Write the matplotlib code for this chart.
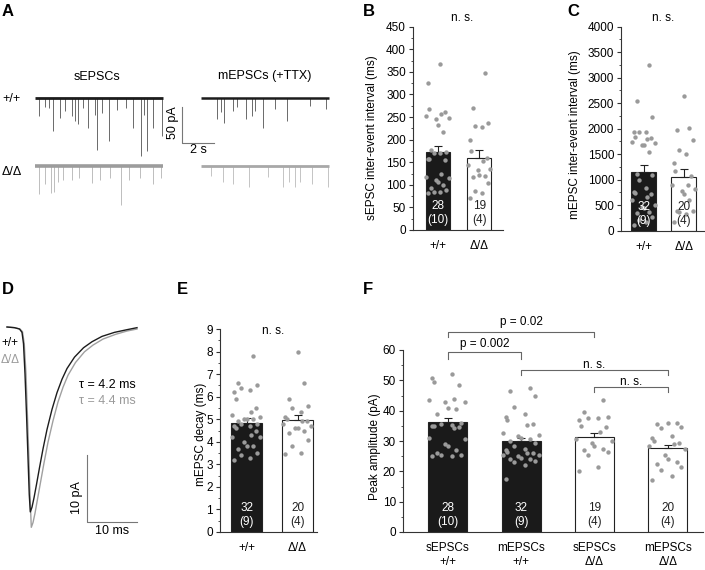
import matplotlib.pyplot as plt
import numpy as np
from matplotlib.ticker import MultipleLocator

plt.rcParams['font.family'] = ['Liberation Sans', 'DejaVu Sans']
plt.rcParams['font.size'] = 8.5

W, H = 705, 570

# ---------------- data ----------------
genotypes = ['+/+', 'Δ/Δ']

# A: example traces, event times (s) and amplitudes (pA)
s_wt_t = [0.27, 0.63, 0.9, 1.15, 1.56, 1.88, 2.3, 2.5, 2.7, 3.0, 3.33, 3.75, 3.9, 4.17, 4.6, 5.1, 5.7, 6.1, 6.6, 6.8, 7.0, 7.4, 7.95]
s_wt_a = [25, 12, 14, 46, 28, 18, 25, 32, 36, 14, 42, 23, 72, 21, 60, 16, 14, 42, 81, 23, 74, 42, 53]
s_ko_t = [0.27, 0.63, 0.98, 1.19, 1.46, 1.77, 2.3, 2.77, 3.54, 4.06, 4.7, 5.4, 5.9, 6.56, 7.4, 7.9]
s_ko_a = [39, 25, 37, 35, 21, 19, 19, 16, 23, 19, 16, 53, 19, 16, 25, 16]
m_wt_t = [0.98, 1.23, 1.46, 1.98, 2.23, 2.79, 3.17, 3.38, 3.9, 4.6, 5.35, 6.8, 7.8]
m_wt_a = [29, 20, 35, 18, 13, 29, 25, 18, 42, 15, 32, 11, 15]
m_ko_t = [0.6, 1.4, 2.0, 3.0, 4.2, 5.1, 5.5, 5.9, 6.2, 6.96, 7.96]
m_ko_a = [14, 21, 24, 29, 15, 29, 21, 29, 21, 24, 29]

# B: sEPSC inter-event interval (ms)
b_wt = [367, 325, 268, 262, 257, 253, 248, 246, 232, 217, 176, 173, 171, 170, 158, 158, 155,
        125, 118, 114, 111, 107, 100, 92, 88, 85, 84, 82]
b_ko = [347, 270, 237, 231, 229, 200, 175, 160, 153, 143, 136, 132, 122, 120, 117, 103, 87, 82, 70]
b_mean = [173, 160]
b_sem = [14, 17]

# C: mEPSC inter-event interval (ms)
c_wt = [3250, 2540, 2220, 1930, 1930, 1930, 1840, 1810, 1790, 1745, 1710, 1680, 1680, 1550, 1120,
        1090, 990, 830, 765, 730, 710, 665, 600, 500, 470, 440, 370, 340, 270, 210, 175, 110]
c_ko = [2650, 2010, 1980, 1780, 1590, 1510, 1330, 1170, 1080, 900, 900, 810, 780, 720, 600,
        390, 380, 370, 330, 170]
c_mean = [1160, 1050]
c_sem = [130, 150]

# D: averaged mEPSC, time (ms) and current (pA)
d_wt_t = [0, 1.5, 2.5, 3.0, 3.3, 3.6, 3.9, 4.2, 4.45, 4.66, 5.0, 5.4, 5.9, 6.5, 7.2, 8.0, 9.0,
          10.0, 11.0, 12.0, 13.5, 15.3, 17.0, 19.0, 21.5, 24.0, 26.0]
d_wt_i = [0, -0.1, -0.3, -0.8, -2.5, -7, -13, -19.5, -25, -27.6, -26.9, -25.5, -23.5, -21, -18.2,
          -15.3, -12.3, -9.8, -7.8, -6.2, -4.5, -3.1, -2.2, -1.4, -0.8, -0.4, -0.1]
d_ko_t = [0, 1.5, 2.6, 3.1, 3.45, 3.8, 4.1, 4.4, 4.65, 4.86, 5.2, 5.6, 6.1, 6.7, 7.4, 8.2, 9.2,
          10.2, 11.2, 12.2, 13.7, 15.5, 17.2, 19.2, 21.7, 24.0, 26.0]
d_ko_i = [0, -0.1, -0.3, -0.7, -2.5, -7, -13.5, -20, -26, -29.9, -29.2, -27.8, -25.7, -23.2, -20.3,
          -17.2, -14, -11.2, -9, -7.2, -5.3, -3.7, -2.7, -1.8, -1.1, -0.6, -0.3]
tau_text = ['τ = 4.2 ms', 'τ = 4.4 ms']

# E: mEPSC decay (ms)
e_wt = [7.8, 6.6, 6.5, 6.4, 6.3, 6.2, 5.9, 5.5, 5.3, 5.2, 5.1, 5.0, 5.0, 5.0, 4.9, 4.8, 4.8, 4.7,
        4.7, 4.6, 4.5, 4.3, 4.2, 4.2, 4.0, 3.8, 3.8, 3.7, 3.5, 3.4, 3.3, 3.2]
e_ko = [8.0, 6.6, 5.9, 5.6, 5.5, 5.3, 5.1, 5.0, 4.9, 4.9, 4.8, 4.7, 4.6, 4.6, 4.5, 4.4, 4.1, 3.8, 3.5, 3.45]
e_mean = [4.85, 4.95]
e_sem = [0.2, 0.22]

# F: peak amplitude (pA)
f_labels = ['sEPSCs\n+/+', 'mEPSCs\n+/+', 'sEPSCs\nΔ/Δ', 'mEPSCs\nΔ/Δ']
f_s_wt = [52, 50.8, 49.5, 48.3, 44, 43.5, 43, 43, 41, 40.5, 39, 36, 35.5, 35.3, 35, 35, 34.5, 34.3,
          31, 30.5, 29, 28.5, 27, 26, 25.5, 25.3, 25, 25]
f_m_wt = [47.5, 46.5, 45, 41.2, 38.8, 38, 37, 35.5, 35.3, 32.5, 32, 31.5, 31, 30.5, 30, 29.5, 28.5,
          27.5, 27, 26.5, 26, 26, 25.5, 25.5, 25, 24.5, 24, 24, 23.5, 23, 22, 17.5]
f_s_ko = [43.5, 39.5, 38, 37.5, 37.5, 37, 35, 34.5, 33, 30.5, 30, 29.5, 28.5, 27.5, 27, 26.5, 25.5, 21.5, 20]
f_m_ko = [36, 35.8, 35.5, 34.5, 34.2, 31.5, 31, 30, 29.5, 29, 28.5, 27.5, 25.5, 24, 23, 22.5, 21.5,
          20.5, 18.5, 17]
f_mean = [36.2, 30.1, 31.2, 27.7]
f_sem = [1.3, 1.0, 1.4, 1.1]
f_comparisons = [(0, 2, 'p = 0.02'), (0, 1, 'p = 0.002'), (1, 3, 'n. s.'), (2, 3, 'n. s.')]

n_cells_s = ['28', '19']
n_mice_s = ['(10)', '(4)']
n_cells_m = ['32', '20']
n_mice_m = ['(9)', '(4)']

# ---------------- layout helpers ----------------
fig = plt.figure(figsize=(7.05, 5.7), dpi=100)


def box(l, t, r, b):
    return [l / W, 1 - b / H, (r - l) / W, (b - t) / H]


def fpos(x, y):
    return x / W, 1 - y / H


def ftext(x, y, s, **kw):
    fig.text(*fpos(x, y), s, ha=kw.pop('ha', 'center'), va=kw.pop('va', 'center'), **kw)


AX = '#333333'
DOT = '#9a9a9a'


def spread(vals, half):
    order = np.argsort(vals)
    pattern = np.array([-0.8, 0.2, -0.35, 0.7, -0.55, 0.45, 0.0, -0.15, 0.9, -0.95, 0.3, 0.6, -0.7])
    off = np.empty(len(vals))
    off[order] = pattern[np.arange(len(vals)) % len(pattern)] * half
    return off


def bar_panel(ax, groups, means, sems, fills, width, ncells, nmice, xlabels, ymax, major, minor):
    x = np.arange(len(groups))
    for i, vals in enumerate(groups):
        ax.bar(x[i], means[i], width, color=fills[i], edgecolor='#222222', linewidth=0.8, zorder=2)
        ax.errorbar(x[i], means[i], yerr=[[0], [sems[i]]], color='#222222', lw=0.8,
                    capsize=3, capthick=0.8, zorder=3)
        ax.scatter(x[i] + spread(vals, width / 2), vals, s=10, color=DOT, linewidths=0, zorder=4)
        tc = 'white' if fills[i] != 'white' else '#222222'
        ax.annotate(ncells[i], (x[i], 0), xycoords=('data', 'axes fraction'), xytext=(0, 17.3),
                    textcoords='offset points', ha='center', va='center', color=tc, zorder=5)
        ax.annotate(nmice[i], (x[i], 0), xycoords=('data', 'axes fraction'), xytext=(0, 7.2),
                    textcoords='offset points', ha='center', va='center', color=tc, zorder=5)
    ax.set_ylim(0, ymax)
    ax.yaxis.set_major_locator(MultipleLocator(major))
    ax.yaxis.set_minor_locator(MultipleLocator(minor))
    ax.set_xticks(x)
    ax.set_xticklabels(xlabels)
    for s in ['top', 'right']:
        ax.spines[s].set_visible(False)
    for s in ['left', 'bottom']:
        ax.spines[s].set_color(AX)
        ax.spines[s].set_linewidth(0.8)
    ax.tick_params(axis='y', which='major', length=3, width=0.8, pad=2, color=AX)
    ax.tick_params(axis='y', which='minor', length=1.8, width=0.6, color=AX)
    ax.tick_params(axis='x', length=0, pad=7.5)


# ---------------- A: traces ----------------
axA = fig.add_axes(box(30, 60, 335, 215))
axA.set_xlim(-0.3125, 18.75)
axA.set_ylim(-162.5, 52.8)
axA.axis('off')
traces = [(0, 0, s_wt_t, s_wt_a, '#1c1c1c', '#6a6a6a', 2.0),
          (10.375, 0, m_wt_t, m_wt_a, '#1c1c1c', '#6a6a6a', 1.8),
          (0, -95, s_ko_t, s_ko_a, '#9c9c9c', '#bdbdbd', 2.6),
          (10.375, -95, m_ko_t, m_ko_a, '#a8a8a8', '#c4c4c4', 2.0)]
for t0, y0, tt, aa, bc, ec, lw in traces:
    axA.vlines(t0 + np.array(tt), y0, y0 - np.array(aa), color=ec, lw=0.7)
    axA.plot([t0, t0 + 8], [y0, y0], color=bc, lw=lw, solid_capstyle='butt')
axA.plot([9.19, 9.19, 11.19], [-12.5, -62.5, -62.5], color='#777777', lw=0.8)
ftext(173, 123, '50 pA', rotation=90, fontsize=9)
ftext(198, 150, '2 s', fontsize=9)
ftext(97, 77, 'sEPSCs', fontsize=9)
ftext(265, 76, 'mEPSCs (+TTX)', fontsize=9)
ftext(11, 99, genotypes[0], fontsize=9)
ftext(12, 172, genotypes[1], fontsize=9)

# ---------------- B ----------------
axB = fig.add_axes(box(413, 26.7, 503, 230))
bar_panel(axB, [b_wt, b_ko], b_mean, b_sem, ['#1a1a1a', 'white'], 0.58,
          n_cells_s, n_mice_s, genotypes, 450, 50, 25)
axB.set_xlim(-0.6, 1.57)
axB.set_ylabel('sEPSC inter-event interval (ms)')
axB.yaxis.set_label_coords(*fpos(378, 138), transform=fig.transFigure)
ftext(462, 18, 'n. s.')

# ---------------- C ----------------
axC = fig.add_axes(box(621, 26.7, 704, 230.7))
bar_panel(axC, [c_wt, c_ko], c_mean, c_sem, ['#1a1a1a', 'white'], 0.62,
          n_cells_m, n_mice_m, genotypes, 4000, 500, 250)
axC.set_xlim(-0.56, 1.5)
axC.set_ylabel('mEPSC inter-event interval (ms)')
axC.yaxis.set_label_coords(*fpos(581, 135), transform=fig.transFigure)
ftext(663, 18, 'n. s.')

# ---------------- D: average mEPSC ----------------
axD = fig.add_axes(box(0, 300, 150, 545))
axD.set_xlim(-1.4, 28.6)
axD.set_ylim(-32.54, 4.03)
axD.axis('off')
axD.plot(d_ko_t, d_ko_i, color='#a0a0a0', lw=1.0)
axD.plot(d_wt_t, d_wt_i, color='#1c1c1c', lw=1.0)
axD.plot([16, 16, 26], [-19.1, -29.1, -29.1], color='#777777', lw=0.8)
ftext(77, 498, '10 pA', rotation=90, fontsize=9)
ftext(112, 531, '10 ms', fontsize=9)
ftext(1, 343, genotypes[0], ha='left', fontsize=8.5)
ftext(1, 360, genotypes[1], ha='left', fontsize=8.5, color='#9a9a9a')
ftext(136, 385, tau_text[0], ha='right', fontsize=9)
ftext(136, 401, tau_text[1], ha='right', fontsize=9, color='#9a9a9a')

# ---------------- E ----------------
axE = fig.add_axes(box(220, 329, 317, 532))
bar_panel(axE, [e_wt, e_ko], e_mean, e_sem, ['#1a1a1a', 'white'], 0.6,
          n_cells_m, n_mice_m, genotypes, 9, 1, 0.5)
axE.set_xlim(-0.52, 1.38)
axE.set_ylabel('mEPSC decay (ms)')
axE.yaxis.set_label_coords(*fpos(207, 434), transform=fig.transFigure)
ftext(273, 331, 'n. s.')

# ---------------- F ----------------
axF = fig.add_axes(box(403, 350, 703, 532))
bar_panel(axF, [f_s_wt, f_m_wt, f_s_ko, f_m_ko], f_mean, f_sem,
          ['#1a1a1a', '#1a1a1a', 'white', 'white'], 0.53,
          [n_cells_s[0], n_cells_m[0], n_cells_s[1], n_cells_m[1]],
          [n_mice_s[0], n_mice_m[0], n_mice_s[1], n_mice_m[1]], f_labels, 60, 10, 5)
axF.set_xlim(-0.61, 3.48)
axF.set_ylabel('Peak amplitude (pA)')
axF.yaxis.set_label_coords(*fpos(381, 447), transform=fig.transFigure)
levels = [(66, 64.4, 69.2), (59.4, 57.0, 62.0), (53.5, 51.8, 55.2), (47.9, 46.2, 49.6)]
for (i, j, txt), (yb, yt, ytx) in zip(f_comparisons, levels):
    axF.plot([i, i, j, j], [yt, yb, yb, yt], color='#666666', lw=0.8, clip_on=False)
    axF.text((i + j) / 2, ytx, txt, ha='center', va='center', clip_on=False)

# ---------------- panel letters ----------------
for lab, (x, y) in zip('ABCDEF', [(2, 11), (363, 12), (567, 11), (2, 290), (177, 290), (363, 290)]):
    ftext(x, y, lab, ha='left', fontsize=12, fontweight='bold')

fig.savefig('out.png', dpi=100)
